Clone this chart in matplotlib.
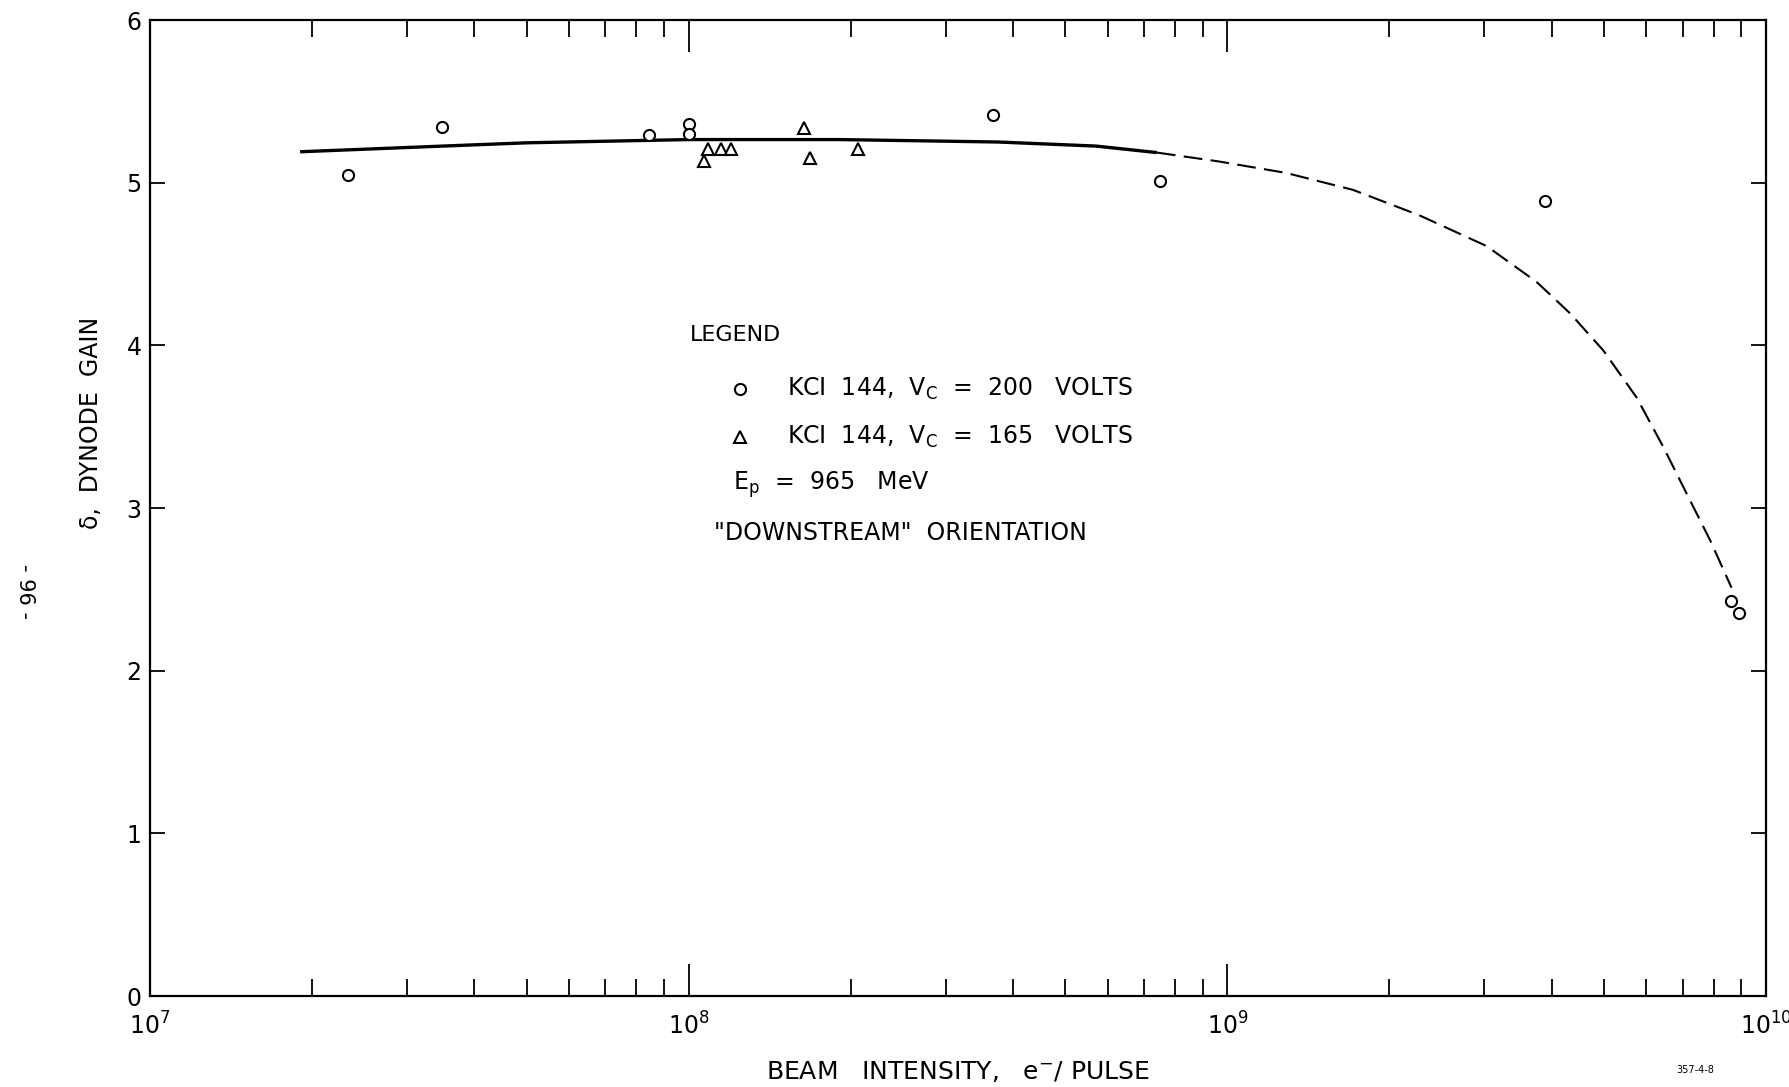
import numpy as np
import matplotlib
matplotlib.use("Agg")
import matplotlib.pyplot as plt
from matplotlib.ticker import LogLocator, NullFormatter, FixedLocator

plt.rcParams['font.family'] = ['DejaVu Sans']
plt.rcParams['mathtext.default'] = 'regular'

# KCl 144, Vc = 200 volts (circles)
circ_x = [2.33e7, 3.48e7, 8.45e7, 1.0e8, 1.0e8, 3.67e8, 7.5e8, 3.89e9, 8.61e9, 8.92e9]
circ_y = [5.05, 5.34, 5.29, 5.36, 5.30, 5.415, 5.01, 4.89, 2.43, 2.355]

# KCl 144, Vc = 165 volts (triangles)
tri_x = [1.07e8, 1.085e8, 1.15e8, 1.2e8, 1.64e8, 1.68e8, 2.06e8]
tri_y = [5.135, 5.205, 5.21, 5.21, 5.335, 5.15, 5.205]

# hand drawn curves
solid_x = [1.9e7, 3.5e7, 5e7, 1e8, 1.9e8, 3.75e8, 5.7e8, 7.4e8]
solid_y = [5.19, 5.225, 5.245, 5.265, 5.265, 5.25, 5.225, 5.185]
dash_x = [7.4e8, 9.66e8, 1.285e9, 1.71e9, 2.27e9, 3.03e9, 3.75e9, 4.33e9,
          4.99e9, 5.75e9, 6.45e9, 7.23e9, 7.88e9, 8.63e9]
dash_y = [5.185, 5.13, 5.06, 4.956, 4.80, 4.61, 4.39, 4.196,
          3.968, 3.68, 3.374, 3.046, 2.80, 2.51]

xtick_vals = [1e7, 1e8, 1e9, 1e10]
xtick_labels = [r'$10^{7}$', r'$10^{8}$', r'$10^{9}$', r'$10^{10}$']
ytick_vals = [0, 1, 2, 3, 4, 5, 6]

fig = plt.figure(figsize=(17.9, 10.87), dpi=100)
ax = fig.add_axes([150/1790, 1 - 996/1087, 1616/1790, 976/1087])

ax.plot(solid_x, solid_y, color='black', lw=2.4, solid_capstyle='butt')
ax.plot(dash_x, dash_y, color='black', lw=1.5, dashes=(9, 4))
ax.plot(circ_x, circ_y, 'o', ms=8, mfc='white', mec='black', mew=1.5, ls='none')
ax.plot(tri_x, tri_y, '^', ms=8, mfc='white', mec='black', mew=1.5, ls='none')

ax.set_xscale('log')
ax.set_xlim(1e7, 1e10)
ax.set_ylim(0, 6)
ax.xaxis.set_major_locator(FixedLocator(xtick_vals))
ax.set_xticklabels(xtick_labels)
ax.xaxis.set_minor_locator(LogLocator(base=10, subs=np.arange(2, 10)))
ax.xaxis.set_minor_formatter(NullFormatter())
ax.set_yticks(ytick_vals)

ax.tick_params(axis='x', which='major', direction='in', length=23, width=1.3,
               top=True, labelsize=17, pad=12)
ax.tick_params(axis='x', which='minor', direction='in', length=12, width=1.3, top=True)
ax.tick_params(axis='y', direction='in', length=11, width=1.3, right=True,
               labelsize=17, pad=6)
for s in ax.spines.values():
    s.set_linewidth(1.6)

# legend block written as text
tx = ax.transAxes
ax.text(0.334, 0.677, 'LEGEND', transform=tx, fontsize=16, va='center', ha='left')
ax.plot([0.365], [0.622], 'o', ms=8, mfc='white', mec='black', mew=1.5, transform=tx)
ax.plot([0.365], [0.573], '^', ms=8, mfc='white', mec='black', mew=1.5, transform=tx)
ax.text(0.394, 0.622, r'KCI  144,  V$_C$  =  200   VOLTS', transform=tx,
        fontsize=17, va='center', ha='left')
ax.text(0.394, 0.573, r'KCI  144,  V$_C$  =  165   VOLTS', transform=tx,
        fontsize=17, va='center', ha='left')
ax.text(0.361, 0.524, r'E$_p$  =  965   MeV', transform=tx, fontsize=17,
        va='center', ha='left')
ax.text(0.349, 0.474, '"DOWNSTREAM"  ORIENTATION', transform=tx, fontsize=17,
        va='center', ha='left')

fig.text(91/1790, 1 - 423/1087, 'δ,  DYNODE  GAIN', rotation=90, fontsize=17,
         ha='center', va='center')
fig.text(958/1790, 1 - 1071/1087, 'BEAM   INTENSITY,   e$^{-}$/ PULSE', fontsize=18,
         ha='center', va='center')
fig.text(25/1790, 1 - 591/1087, '- 96 -', rotation=270, fontsize=15,
         ha='center', va='center')
fig.text(1695/1790, 1 - 1070/1087, '357-4-8', fontsize=7, ha='center', va='center')

fig.savefig('out.png', dpi=100)
